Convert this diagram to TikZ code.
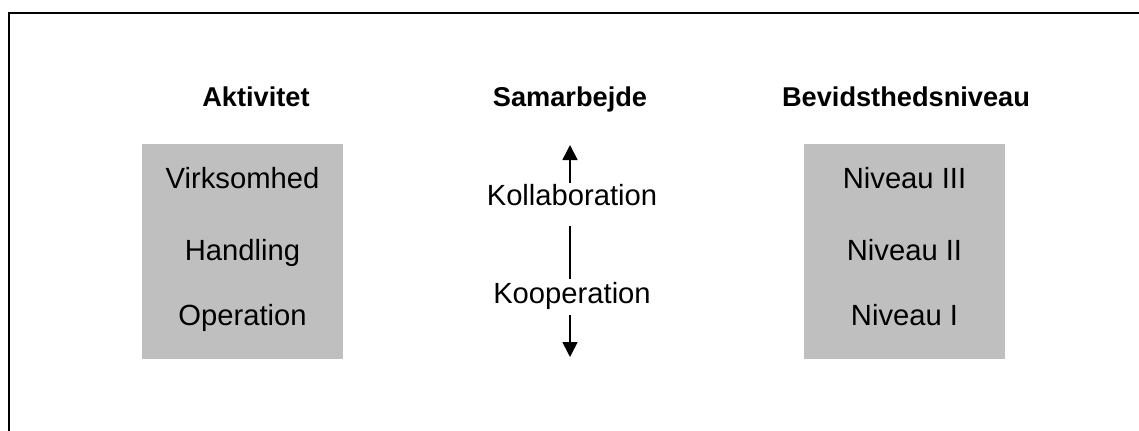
\documentclass[tikz,border=0pt]{standalone}
\usepackage{fontspec}
\setmainfont{Liberation Sans}
\usetikzlibrary{positioning,arrows.meta}

\tikzset{
  head/.style={anchor=base, font=\bfseries\fontsize{13.6}{16}\selectfont},
  item/.style={anchor=base, inner sep=0pt, font=\fontsize{14.6}{17}\selectfont},
  panel/.style={fill=black!25, minimum width=100.5pt, minimum height=107.5pt, inner sep=0pt},
  link/.style={line width=0.8pt},
  tip/.style={link, -{Triangle[width=7.5pt,length=7.5pt]}},
}

\begin{document}
\begin{tikzpicture}[x=0.5pt,y=-0.5pt]
    \useasboundingbox (0,0) rectangle (1139,430);
    \clip (0,0) rectangle (1139,430);

    % Frame
    \draw[line width=1pt] (8.5,12.5) rectangle (1170,460);

    % Headings
    \node[head] (akt) at (256,106) {Aktivitet};
    \node[head] (sam) at (570,106) {Samarbejde};
    \node[head] (bev) at (906,106) {Bevidsthedsniveau};

    % Gray panels
    \node[panel] (aktbox) at (242.5,251.5) {};
    \node[panel] (bevbox) at (904.5,251.5) {};

    % Activity levels
    \node[item] (virk) at (242.5,188) {Virksomhed};
    \node[item] (hand) at (242.5,260) {Handling};
    \node[item] (oper) at (242.5,325) {Operation};

    % Consciousness levels
    \node[item] (niv3) at (904.5,188) {Niveau III};
    \node[item] (niv2) at (904.5,260) {Niveau II};
    \node[item] (niv1) at (904.5,325) {Niveau I};

    % Cooperation axis
    \node[item] (kollab) at (572,205) {Kollaboration};
    \node[item] (koop) at (572,303) {Kooperation};
    \coordinate (up) at (570,145);
    \coordinate (down) at (570,357);

    \draw[tip] (kollab.north -| up) -- (up);
    \draw[link, shorten <=10pt, shorten >=1pt] (kollab.south -| up) -- (koop.north -| up);
    \draw[tip, shorten <=3pt] (koop.south -| down) -- (down);
\end{tikzpicture}
\end{document}
